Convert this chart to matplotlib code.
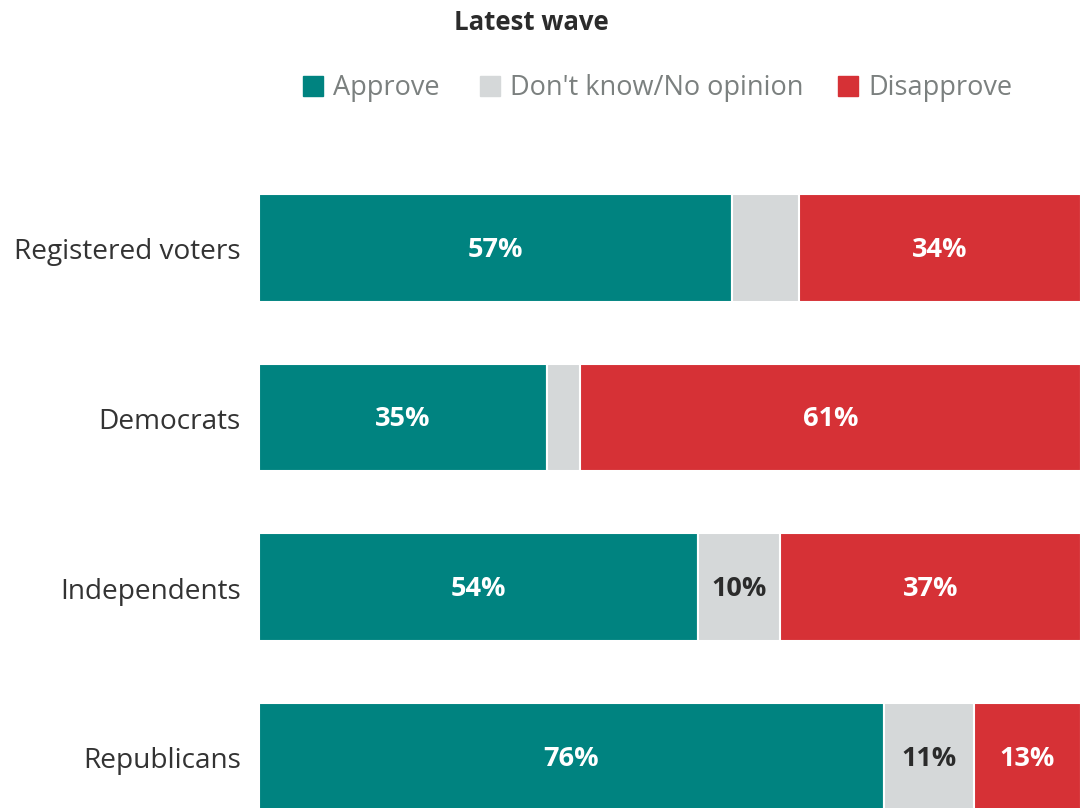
import numpy as np
import matplotlib.pyplot as plt
from matplotlib.patches import Rectangle

# data
groups = ['Registered voters', 'Democrats', 'Independents', 'Republicans']
approve = np.array([57, 35, 54, 76])
dont_know = np.array([8, 4, 10, 11])
disapprove = np.array([34, 61, 37, 13])
series_names = ['Approve', "Don't know/No opinion", 'Disapprove']

colors = ['#008380', '#D5D8D9', '#D63136']
label_colors = ['white', '#2b2b2b', 'white']

plt.rcParams['font.family'] = ['Open Sans', 'DejaVu Sans']

W, H = 1081, 808
fig = plt.figure(figsize=(W / 100, H / 100), dpi=100)
ax = fig.add_axes([259 / W, 0, 822 / W, (808 - 163) / H])

series = [approve, dont_know, disapprove]
totals = approve + dont_know + disapprove  # rows are scaled to their own total
y = np.arange(len(groups))
left = np.zeros(len(groups))
for vals, col, lc in zip(series, colors, label_colors):
    share = vals / totals * 100
    ax.barh(y, share, left=left, height=0.635, color=col,
            edgecolor='white', linewidth=1.5)
    for i in range(len(groups)):
        if vals[i] >= 10:  # small segments stay unlabelled
            ax.text(left[i] + share[i] / 2, y[i] + 0.01, f'{vals[i]}%',
                    ha='center', va='center', color=lc, fontsize=19.5,
                    fontweight='bold')
    left = left + share

ax.set_xlim(0, 100)
ax.set_ylim(3.3, -0.5)
ax.axis('off')

for i, g in enumerate(groups):
    ax.text(-2.2, y[i] + 0.025, g, ha='right', va='center', fontsize=20.2,
            color='#333333')

# title and legend
fig.text(531 / W, 1 - 23 / H, 'Latest wave', ha='center', va='center',
         fontsize=18.5, fontweight='bold', color='#2b2b2b')
sq_x = [303, 480, 838]
for sx, name, col in zip(sq_x, series_names, colors):
    fig.patches.append(Rectangle((sx / W, 1 - 96 / H), 20 / W, 20 / H,
                                 transform=fig.transFigure, color=col))
    fig.text((sx + 30) / W, 1 - 88 / H, name, ha='left', va='center',
             fontsize=19.5, color='#7b807f')

fig.savefig('out.png', dpi=100)
